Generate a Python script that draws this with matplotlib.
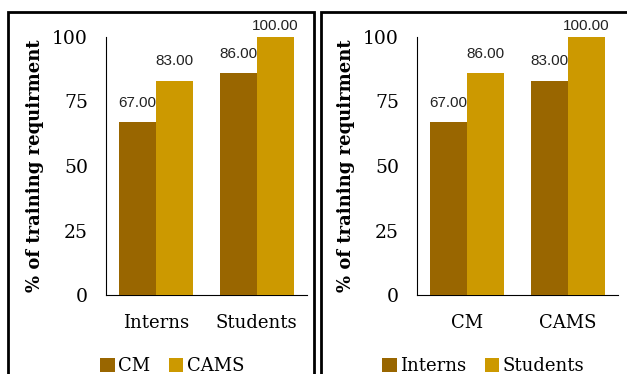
import numpy as np
import matplotlib
matplotlib.use("Agg")
import matplotlib.pyplot as plt
from matplotlib.patches import Rectangle

# left panel: groups = participants, series = method
left_groups = ["Interns", "Students"]
left_series = ["CM", "CAMS"]
left_values = [[67, 86],    # CM
               [83, 100]]   # CAMS

# right panel: groups = method, series = participants
right_groups = ["CM", "CAMS"]
right_series = ["Interns", "Students"]
right_values = [[67, 83],   # Interns
                [86, 100]]  # Students

y_ticks = [0, 25, 50, 75, 100]
colors = ["#996600", "#CC9900"]
ylabel = "% of training requirment"

W, H = 627, 374
fig = plt.figure(figsize=(W / 100, H / 100), dpi=100)


def panel(rect, groups, series, values):
    ax = fig.add_axes(rect)
    x = np.arange(len(groups))
    w = 0.37
    for i, (name, vals) in enumerate(zip(series, values)):
        xs = x + (i - 0.5) * w
        ax.bar(xs, vals, w, color=colors[i], label=name, zorder=3)
        for xi, v in zip(xs, vals):
            # labels at the top of the plot area sit closer to the bar
            pad = 3 if v >= 100 else 9
            ax.annotate("%.2f" % v, (xi, v), xytext=(0, pad),
                        textcoords="offset points", ha="center", va="bottom",
                        fontsize=11, family="Liberation Sans",
                        color="#222222", annotation_clip=False)
    ax.set_xlim(-0.5, len(groups) - 0.5)
    ax.set_ylim(0, 100)
    ax.set_yticks(y_ticks)
    ax.set_xticks(x)
    ax.set_xticklabels(groups, family="DejaVu Serif", fontsize=13)
    for lab in ax.get_yticklabels():
        lab.set_family("DejaVu Serif")
        lab.set_fontsize(13.5)
    ax.tick_params(length=0, pad=13)
    ax.tick_params(axis="x", pad=14)
    for s in ["top", "right"]:
        ax.spines[s].set_visible(False)
    ax.spines["left"].set_linewidth(0.8)
    ax.spines["bottom"].set_linewidth(0.8)
    ax.set_ylabel(ylabel, family="DejaVu Serif", fontweight="bold",
                  fontsize=13, labelpad=6)
    ax.legend(loc="upper center", bbox_to_anchor=(0.33, -0.24), ncol=2,
              frameon=False, handlelength=0.8, handleheight=0.8,
              handletextpad=0.2, columnspacing=1.0, borderaxespad=0,
              borderpad=0,
              prop={"family": "DejaVu Serif", "size": 13})
    return ax


panel([106 / W, 1 - 295 / H, 201 / W, 258 / H], left_groups, left_series,
      left_values)
panel([417 / W, 1 - 295 / H, 201 / W, 258 / H], right_groups, right_series,
      right_values)

# panel frames
fig.patches.append(Rectangle((8 / W, -0.1), 306 / W, 1.1 - 12 / H,
                             transform=fig.transFigure, fill=False,
                             edgecolor="black", linewidth=2))
fig.patches.append(Rectangle((321 / W, -0.1), 320 / W, 1.1 - 12 / H,
                             transform=fig.transFigure, fill=False,
                             edgecolor="black", linewidth=2))

fig.savefig("out.png", dpi=100)
